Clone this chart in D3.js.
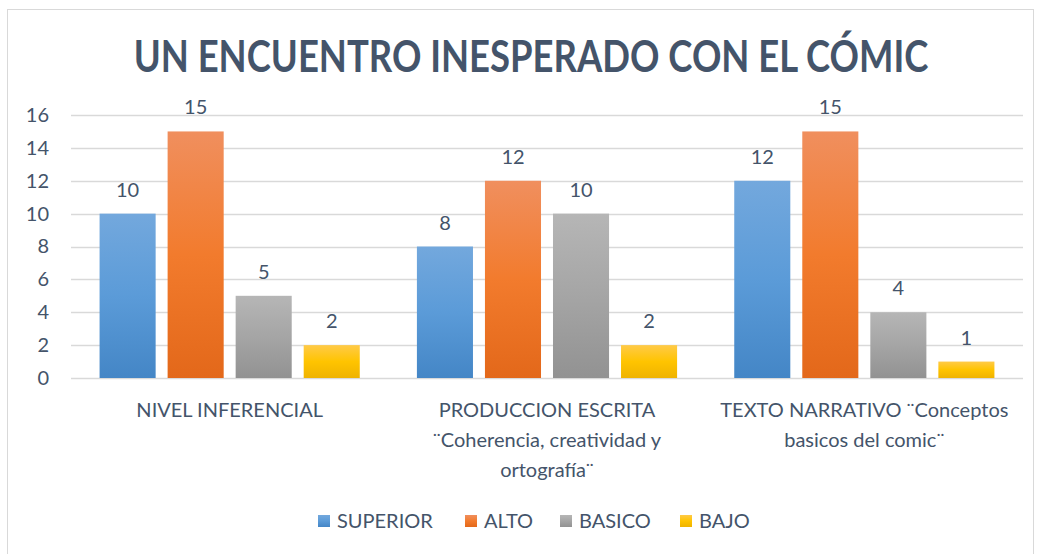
<!DOCTYPE html>
<html>
<head>
<meta charset="utf-8">
<script src="https://cdn.jsdelivr.net/npm/d3@7"></script>
<style>
  body { margin: 0; background: #fff; }
  text { font-family: Lato, "Open Sans", sans-serif; }
</style>
</head>
<body>
<script>
const width = 1039;
const height = 554;

// chart data
const categories = ["NIVEL INFERENCIAL", "PRODUCCION ESCRITA", "TEXTO NARRATIVO"];
const categoryLines = [
  ["NIVEL INFERENCIAL"],
  ["PRODUCCION ESCRITA", "¨Coherencia, creatividad y", "ortografía¨"],
  ["TEXTO NARRATIVO ¨Conceptos", "basicos del comic¨"]
];
const seriesNames = ["SUPERIOR", "ALTO", "BASICO", "BAJO"];
const superior = [10, 8, 12];
const alto = [15, 12, 15];
const basico = [5, 10, 4];
const bajo = [2, 2, 1];
const yTicks = [0, 2, 4, 6, 8, 10, 12, 14, 16];

const seriesValues = [superior, alto, basico, bajo];
const gradStops = [
  ["#73a8dd", "#5b9bd8", "#4486c6"],
  ["#f08f5e", "#f27b2d", "#e3681a"],
  ["#b6b6b6", "#a5a5a5", "#929292"],
  ["#ffca48", "#ffc400", "#efb300"]
];
const textColor = "#44546a";

const svg = d3.select("body").append("svg")
  .attr("width", width)
  .attr("height", height);

const defs = svg.append("defs");
gradStops.forEach((stops, i) => {
  const g = defs.append("linearGradient")
    .attr("id", "grad" + i)
    .attr("x1", 0).attr("y1", 0).attr("x2", 0).attr("y2", 1);
  g.append("stop").attr("offset", "0%").attr("stop-color", stops[0]);
  g.append("stop").attr("offset", "50%").attr("stop-color", stops[1]);
  g.append("stop").attr("offset", "100%").attr("stop-color", stops[2]);
});

// outer frame
svg.append("rect")
  .attr("x", 7.5).attr("y", 9.5)
  .attr("width", 1026).attr("height", 545)
  .attr("fill", "#fff")
  .attr("stroke", "#d9d9d9");

const xScale = d3.scaleBand()
  .domain(categories)
  .range([71, 1023])
  .padding(0);

const xSub = d3.scaleBand()
  .domain(seriesNames)
  .range([0, xScale.bandwidth()])
  .paddingInner(0.176)
  .paddingOuter(0.42);

const yScale = d3.scaleLinear()
  .domain([0, 16])
  .range([378, 115]);

// grid
svg.append("g")
  .selectAll("line")
  .data(yTicks)
  .enter().append("line")
  .attr("x1", 71).attr("x2", 1023)
  .attr("y1", d => Math.round(yScale(d)) + 0.5)
  .attr("y2", d => Math.round(yScale(d)) + 0.5)
  .attr("stroke", "#d9d9d9")
  .attr("stroke-width", 1.5);

// y axis labels
const yAxis = svg.append("g")
  .attr("transform", "translate(49,0)")
  .call(d3.axisLeft(yScale).tickValues(yTicks).tickSize(0).tickPadding(0));
yAxis.select(".domain").remove();
yAxis.selectAll("text")
  .style("font-family", "Lato, sans-serif")
  .style("font-size", "20px")
  .attr("fill", textColor);

// bars
const groups = svg.append("g")
  .selectAll("g")
  .data(seriesNames)
  .enter().append("g")
  .attr("fill", (d, i) => `url(#grad${i})`);

groups.selectAll("rect")
  .data((s, i) => categories.map((c, j) => ({ cat: c, s: s, v: seriesValues[i][j] })))
  .enter().append("rect")
  .attr("x", d => xScale(d.cat) + xSub(d.s))
  .attr("y", d => yScale(d.v))
  .attr("width", xSub.bandwidth())
  .attr("height", d => yScale(0) - yScale(d.v));

// data labels
groups.selectAll("text")
  .data((s, i) => categories.map((c, j) => ({ cat: c, s: s, v: seriesValues[i][j] })))
  .enter().append("text")
  .attr("x", d => xScale(d.cat) + xSub(d.s) + xSub.bandwidth() / 2)
  .attr("y", d => yScale(d.v) - 17)
  .attr("text-anchor", "middle")
  .attr("fill", textColor)
  .style("font-size", "20px")
  .text(d => d.v);

// category labels
const catLabels = svg.append("g")
  .selectAll("text")
  .data(categories)
  .enter().append("text")
  .attr("text-anchor", "middle")
  .attr("fill", textColor)
  .style("font-size", "20px");

catLabels.selectAll("tspan")
  .data((d, i) => categoryLines[i].map(t => ({ cat: d, t: t })))
  .enter().append("tspan")
  .attr("x", d => xScale(d.cat) + xScale.bandwidth() / 2)
  .attr("y", (d, i) => 417 + i * 30)
  .text(d => d.t);

// title - stretched a bit vertically to mimic the condensed original face
const title = svg.append("text")
  .attr("transform", "translate(531,72) scale(1,1.2)")
  .attr("text-anchor", "middle")
  .attr("fill", textColor)
  .style("font-weight", "bold")
  .style("font-size", "40px")
  .text("UN ENCUENTRO INESPERADO CON EL CÓMIC");
const tw = title.node().getComputedTextLength();
title.style("font-size", (40 * 795 / tw) + "px");

// legend
const legendX = [318, 465, 560, 680];
const legend = svg.append("g")
  .selectAll("g")
  .data(seriesNames)
  .enter().append("g")
  .attr("transform", (d, i) => `translate(${legendX[i]},515)`);

legend.append("rect")
  .attr("width", 12).attr("height", 12)
  .attr("fill", (d, i) => `url(#grad${i})`);

legend.append("text")
  .attr("x", 19)
  .attr("y", 13)
  .attr("fill", textColor)
  .style("font-size", "20px")
  .text(d => d);
</script>
</body>
</html>
